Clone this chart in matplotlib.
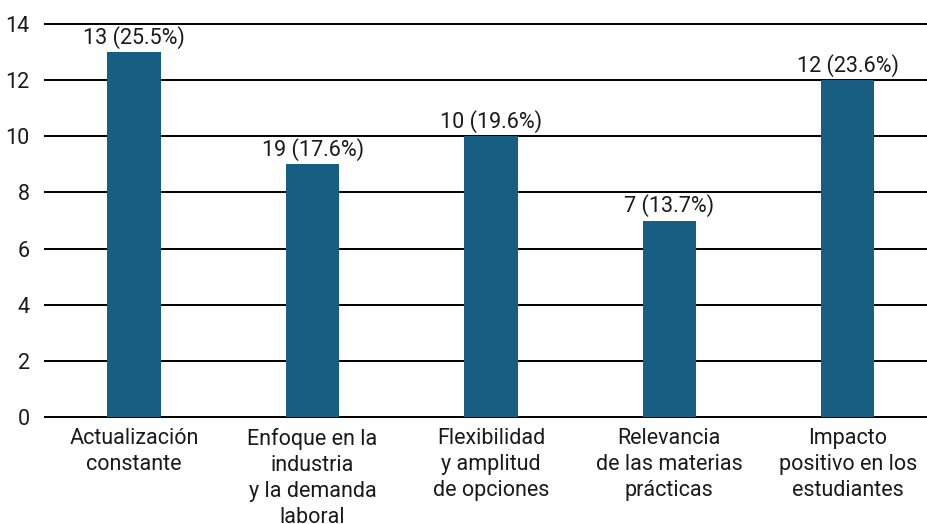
import matplotlib.pyplot as plt
import numpy as np

plt.rcParams['font.family'] = ['Roboto', 'DejaVu Sans']

# datos
categorias = ['Actualización\nconstante',
              'Enfoque en la\nindustria\ny la demanda\nlaboral',
              'Flexibilidad\ny amplitud\nde opciones',
              'Relevancia\nde las materias\nprácticas',
              'Impacto\npositivo en los\nestudiantes']
valores = [13, 9, 10, 7, 12]
etiquetas = ['13 (25.5%)', '19 (17.6%)', '10 (19.6%)', '7 (13.7%)', '12 (23.6%)']
yticks = [0, 2, 4, 6, 8, 10, 12, 14]

color_barra = '#175e82'

fig = plt.figure(figsize=(9.28, 5.24), dpi=100)
ax = fig.add_axes([45 / 928, (524 - 417) / 524, 1 - 45 / 928, (417 - 24) / 524])

x = np.arange(len(categorias))
ax.yaxis.grid(True, color='black', linewidth=1.4)
ax.set_axisbelow(True)
barras = ax.bar(x, valores, width=0.3, color=color_barra, zorder=3)

for b, txt in zip(barras, etiquetas):
    ax.text(b.get_x() + b.get_width() / 2, b.get_height() + 0.12, txt,
            ha='center', va='bottom', fontsize=15.5, color='#1a1a1a')

ax.set_xlim(-0.5, 4.45)
ax.set_ylim(0, 14)
ax.set_yticks(yticks)
ax.set_xticks(x)
ax.set_xticklabels(categorias, fontsize=15.5, linespacing=1.3, color='#1a1a1a')
ax.tick_params(axis='y', labelsize=15.5, length=0, pad=11, labelcolor='#1a1a1a')
ax.tick_params(axis='x', length=0, pad=8)
for gl in ax.get_ygridlines():
    gl.set_clip_on(False)
for s in ax.spines.values():
    s.set_visible(False)

fig.savefig('out.png', dpi=100)
